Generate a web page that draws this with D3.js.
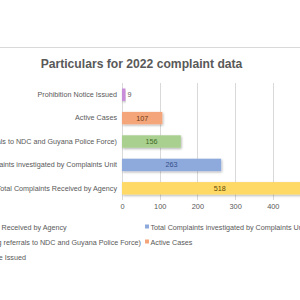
<!DOCTYPE html>
<html><head><meta charset="utf-8">
<script src="https://cdn.jsdelivr.net/npm/d3@7"></script>
<style>html,body{margin:0;padding:0;background:#fff;overflow:hidden}</style>
</head><body>
<svg id="c" width="300" height="300"></svg>
<script>
const categories = [
  "Prohibition Notice Issued",
  "Active Cases",
  "Closed (including referrals to NDC and Guyana Police Force)",
  "Total Complaints investigated by Complaints Unit",
  "Total Complaints Received by Agency"
];
const values = [9, 107, 156, 263, 518];
const colors = ["#C98CD9", "#F4A67A", "#A9D08E", "#8EA9DB", "#FFD966"];
const labelColors = ["#595959", "#6b3a14", "#3f6a27", "#34508a", "#5e4b05"];
const gridTicks = [0, 100, 200, 300, 400, 500];
const tickLabels = [0, 100, 200, 300, 400];
const title = "Particulars for 2022 complaint data";

const svg = d3.select("#c");
const font = "'Liberation Sans', Arial, sans-serif";

// chart border top
svg.append("line").attr("x1", -10).attr("x2", 310).attr("y1", 47.5).attr("y2", 47.5)
  .attr("stroke", "#d9d9d9").attr("stroke-width", 1);

// title
const t = svg.append("text").attr("x", 141.5).attr("y", 68).attr("text-anchor", "middle")
  .attr("font-family", font).attr("font-weight", "bold").attr("fill", "#595959")
  .attr("font-size", 12).text(title);
const tw = t.node().getComputedTextLength();
t.attr("font-size", 12 * 202 / tw);

const x = d3.scaleLinear().domain([0, 500]).range([122, 310.5]);
const y = d3.scaleBand().domain(categories).range([83, 200]).paddingInner(0.47).paddingOuter(0.235);

const defs = svg.append("defs");
const f = defs.append("filter").attr("id", "sh").attr("x", "-5%").attr("y", "-30%").attr("width", "115%").attr("height", "180%");
f.append("feDropShadow").attr("dx", 0.8).attr("dy", 1.2).attr("stdDeviation", 0.8)
  .attr("flood-color", "#000").attr("flood-opacity", 0.3);

// gridlines
svg.append("g").selectAll("line").data(gridTicks).join("line")
  .attr("x1", d => Math.round(x(d)) + 0.5).attr("x2", d => Math.round(x(d)) + 0.5)
  .attr("y1", 83).attr("y2", 200)
  .attr("stroke", "#d9d9d9").attr("stroke-width", 1);

// x axis labels
const xAxis = d3.axisBottom(x).tickValues(tickLabels).tickSize(0).tickPadding(0);
const gx = svg.append("g").attr("transform", "translate(0,205)").call(xAxis);
gx.select(".domain").remove();
gx.selectAll("text").attr("font-family", font).attr("font-size", 7.4).attr("fill", "#595959")
  .attr("dy", "0.6em");

// y axis labels
const yAxis = d3.axisLeft(y).tickSize(0).tickPadding(0);
const gy = svg.append("g").attr("transform", "translate(117,0)").call(yAxis);
gy.select(".domain").remove();
gy.selectAll("text").attr("font-family", font).attr("font-size", 7.2).attr("fill", "#595959");

// bars
svg.append("g").selectAll("rect").data(values).join("rect")
  .attr("x", x(0))
  .attr("y", (d, i) => y(categories[i]))
  .attr("width", d => x(d) - x(0))
  .attr("height", y.bandwidth())
  .attr("fill", (d, i) => colors[i])
  .attr("filter", "url(#sh)");

// data labels
svg.append("g").selectAll("text").data(values).join("text")
  .attr("x", (d, i) => i === 0 ? x(d) + 2 : (x(0) + x(d)) / 2)
  .attr("y", (d, i) => y(categories[i]) + y.bandwidth() / 2)
  .attr("dy", "0.35em")
  .attr("text-anchor", (d, i) => i === 0 ? "start" : "middle")
  .attr("font-family", font).attr("font-size", 7.2)
  .attr("fill", (d, i) => labelColors[i])
  .text(d => d);

// legend
const lg = svg.append("g");
const rowY = [227, 242, 257];
const probe = lg.append("text").attr("font-family", font).attr("font-size", 7.2).text(categories[2]);
const w2 = probe.node().getComputedTextLength();
probe.remove();
// first column positioned so the longest entry ends just before column two
const col1Text = 141 - w2;
const items = [
  {i: 4, col: 0, row: 0},
  {i: 3, col: 1, row: 0},
  {i: 2, col: 0, row: 1},
  {i: 1, col: 1, row: 1},
  {i: 0, col: 0, row: 2}
];
const colTextX = [col1Text, 150.5];
items.forEach(it => {
  const tx = colTextX[it.col];
  lg.append("rect").attr("x", tx - 5.5).attr("y", rowY[it.row] - 2.5).attr("width", 4).attr("height", 4)
    .attr("fill", colors[it.i]);
  lg.append("text").attr("x", tx).attr("y", rowY[it.row]).attr("dy", "0.35em")
    .attr("font-family", font).attr("font-size", 7.2).attr("fill", "#595959")
    .text(categories[it.i]);
});
</script>
</body></html>
